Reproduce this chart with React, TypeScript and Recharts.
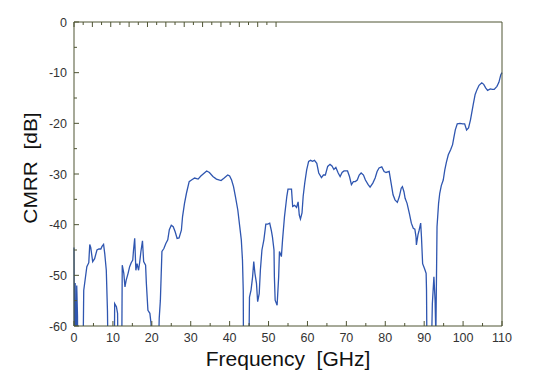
import { LineChart, Line, XAxis, YAxis } from "recharts";

// CMRR vs frequency (values below -60 dB leave the frame)
const freqGHz = [
  0, 0.15, 0.3, 0.5, 0.7, 0.9, 1.0, 2.2, 2.5, 3.3, 3.8, 4.05, 4.3, 4.8, 5.3, 5.9, 6.4, 6.9, 7.2, 7.6,
  7.9, 8.3, 8.6, 8.9, 10.3, 10.45, 10.9, 11.2, 11.4, 12.2, 12.4, 12.8, 13.1, 13.4, 13.9, 14.3, 14.7,
  15.1, 15.3, 15.6, 15.9, 16.2, 16.6, 16.9, 17.2, 17.6, 17.9, 18.4, 18.6, 19.0, 19.5, 19.8, 20.1,
  21.4, 21.9, 22.2, 22.6, 23.1, 23.6, 24.1, 24.5, 25.0, 25.5, 26.0, 26.5, 27.0, 27.6, 27.9, 28.4,
  28.9, 29.6, 30.2, 31.0, 31.9, 32.6, 33.5, 34.1, 34.8, 35.7, 36.6, 37.8, 38.6, 39.5, 40.0, 40.5,
  41.0, 41.5, 42.1, 42.6, 43.0, 43.3, 43.5, 43.6, 44.8, 45.1, 45.5, 45.9, 46.2, 46.5, 46.9, 47.2,
  47.6, 47.9, 48.3, 48.8, 49.3, 49.8, 50.3, 50.7, 51.0, 51.4, 51.5, 51.7, 52.2, 52.6, 52.8, 53.3,
  53.6, 54.1, 54.7, 55.0, 55.9, 56.2, 56.7, 57.2, 57.6, 57.9, 58.2, 58.6, 58.9, 59.3, 59.8, 60.3,
  60.8, 61.3, 61.8, 62.4, 62.9, 63.6, 64.1, 64.6, 65.2, 65.8, 66.3, 66.8, 67.3, 67.9, 68.4, 68.9,
  69.4, 70.3, 70.8, 71.3, 71.8, 72.3, 72.8, 73.3, 73.8, 74.4, 74.9, 75.6, 76.1, 76.8, 77.4, 77.9,
  78.4, 79.1, 79.7, 80.2, 81.0, 81.5, 82.0, 82.5, 83.1, 83.6, 84.1, 84.4, 84.8, 85.1, 85.6, 86.2,
  86.7, 87.2, 87.6, 87.9, 88.0, 88.4, 88.7, 89.1, 89.3, 89.6, 90.1, 90.5, 90.6, 90.8, 91.6, 92.1,
  92.5, 92.8, 93.0, 93.3, 93.7, 94.0, 94.4, 94.9, 95.3, 95.7, 96.2, 96.8, 97.3, 97.6, 98.0, 98.5,
  99.2, 99.9, 100.4, 100.9, 101.4, 101.9, 102.6, 103.1, 103.6, 104.1, 104.8, 105.3, 105.8, 106.3,
  107.0, 107.5, 108.0, 108.7, 109.2, 109.7, 110,
];

const cmrrDb = [
  -44.5, -75, -51.5, -75, -52, -58, -75, -75, -53, -48.3, -47.5, -43.9, -44.5, -47.3, -46.7, -45, -44.8, -44.8, -44.3, -43.9,
  -45.7, -49, -57, -75, -75, -55.6, -56.2, -57.5, -75, -75, -48, -49.6, -52.3, -51, -49.6, -48.3, -47.5,
  -47, -45, -42.7, -49, -47.7, -49, -47.3, -45.3, -43.2, -47.3, -48, -51.6, -56.9, -57.5, -59.5, -75,
  -75, -58.5, -54.9, -45.3, -44.7, -43.7, -43, -41, -40.1, -40.4, -41.4, -42.7, -42.6, -41.1, -38.4, -35.8,
  -33.8, -31.5, -31.2, -30.8, -31, -30.4, -29.8, -29.4, -29.7, -30.5, -31, -31.3, -30.8, -30.2, -30.4, -31.2,
  -32.5, -34.5, -37.1, -40.4, -43, -47, -53, -75, -75, -54.3, -52.9, -50.3, -47.3, -49.6, -51.6, -55.2,
  -53.6, -49, -45, -43, -39.9, -39.9, -39.7, -41.1, -42.4, -45, -50.3, -54.9, -55.9, -50.3, -45.3, -46.3,
  -43, -38.4, -34.4, -33, -33, -36.4, -36.2, -36.6, -35.5, -38.1, -38.9, -37.7, -34.4, -31.8, -29.2, -27.5,
  -27.3, -27.5, -27.3, -27.9, -29.8, -30.7, -30.2, -30.2, -28.5, -28.1, -28.4, -29.1, -28.7, -29.8, -30.5, -29.7,
  -29.4, -29.4, -30.5, -32.1, -31.5, -31.5, -31.2, -30.2, -29.8, -30.2, -31.2, -32.1, -32.6, -31.8, -30.8, -29.5,
  -28.8, -28.6, -29.5, -29.7, -29.5, -31.8, -34.1, -35.1, -35.6, -34.5, -32.8, -32.5, -33.5, -34.8, -35.8, -37.8,
  -39.7, -40.7, -40.9, -42.4, -44, -42, -41.1, -39.7, -42.4, -47.7, -48.7, -49.6, -52.9, -75, -75, -55.6,
  -50.3, -54.9, -62, -40.4, -35.8, -33.8, -32.3, -31.2, -29.2, -27.7, -26.2, -25.2, -24.2, -22.9, -21.3, -20.1,
  -20, -20.1, -20.1, -21.3, -20.9, -19.3, -16.3, -14.3, -13.3, -12.5, -12, -12.3, -13, -13.5,
  -13.2, -13.3, -13.3, -12.7, -11.9, -10.4, -10,
];

const xTicks = [0, 5, 10, 15, 20, 25, 30, 35, 40, 45, 50, 55, 60, 65, 70, 75, 80, 85, 90, 95, 100, 105, 110];
const yTicks = [-60, -55, -50, -45, -40, -35, -30, -25, -20, -15, -10, -5, 0];

const data = freqGHz.map((f, i) => ({ f, cmrr: cmrrDb[i] }));

const FRAME = "#4f5433";
const FONT = "'Liberation Sans', Arial, sans-serif";
const LABEL = "#333333";

const isMajor = (v: number) => v % 10 === 0;

function BottomTick({ x, y, payload }: any) {
  const major = isMajor(payload.value);
  return (
    <g>
      <line x1={x} x2={x} y1={y} y2={y - (major ? 5 : 3)} stroke={FRAME} />
      {major && (
        <text x={x} y={y + 16} textAnchor="middle" fontSize={12.5} fontFamily={FONT} fill={LABEL}>
          {payload.value}
        </text>
      )}
    </g>
  );
}

function TopTick({ x, y, payload }: any) {
  const major = isMajor(payload.value);
  return <line x1={x} x2={x} y1={y} y2={y + (major ? 5 : 3)} stroke={FRAME} />;
}

function LeftTick({ x, y, payload }: any) {
  const major = isMajor(payload.value);
  return (
    <g>
      <line x1={x} x2={x + (major ? 5 : 3)} y1={y} y2={y} stroke={FRAME} />
      {major && (
        <text x={x - 7} y={y + 4.5} textAnchor="end" fontSize={12.5} fontFamily={FONT} fill={LABEL}>
          {payload.value}
        </text>
      )}
    </g>
  );
}

function RightTick({ x, y, payload }: any) {
  const major = isMajor(payload.value);
  return <line x1={x} x2={x - (major ? 5 : 3)} y1={y} y2={y} stroke={FRAME} />;
}

export default function App() {
  return (
    <div style={{ position: "absolute", left: 0, top: 0, background: "#fff" }}>
      <LineChart width={553} height={379} data={data} margin={{ top: 21, right: 50, bottom: 0, left: 0 }}>
        <XAxis
          dataKey="f"
          type="number"
          domain={[0, 110]}
          ticks={xTicks}
          interval={0}
          height={53}
          stroke={FRAME}
          tickLine={false}
          tickSize={0}
          tickMargin={0}
          tick={BottomTick}
          label={({ viewBox }: any) => (
            <text
              x={viewBox.x + viewBox.width / 2}
              y={viewBox.y + 40}
              textAnchor="middle"
              fontSize={21}
              fontFamily={FONT}
              fill="#111"
            >
              {"Frequency\u00a0\u00a0[GHz]"}
            </text>
          )}
        />
        <XAxis
          xAxisId="top"
          orientation="top"
          type="number"
          domain={[0, 110]}
          ticks={xTicks}
          interval={0}
          height={1}
          stroke={FRAME}
          tickLine={false}
          tickSize={0}
          tickMargin={0}
          tick={TopTick}
        />
        <YAxis
          type="number"
          domain={[-60, 0]}
          ticks={yTicks}
          interval={0}
          allowDataOverflow
          width={74}
          stroke={FRAME}
          tickLine={false}
          tickSize={0}
          tickMargin={0}
          tick={LeftTick}
          label={({ viewBox }: any) => {
            const cx = viewBox.x + 37;
            const cy = viewBox.y + viewBox.height / 2 - 6;
            return (
              <text
                x={0}
                y={0}
                transform={`translate(${cx} ${cy}) rotate(-90) scale(1.16 1)`}
                textAnchor="middle"
                fontSize={18}
                fontFamily={FONT}
                fill="#111"
              >
                {"CMRR\u00a0\u00a0[dB]"}
              </text>
            );
          }}
        />
        <YAxis
          yAxisId="right"
          orientation="right"
          type="number"
          domain={[-60, 0]}
          ticks={yTicks}
          interval={0}
          width={1}
          stroke={FRAME}
          tickLine={false}
          tickSize={0}
          tickMargin={0}
          tick={RightTick}
        />
        <Line
          dataKey="cmrr"
          type="linear"
          stroke="#2f56b0"
          strokeWidth={1.3}
          dot={false}
          isAnimationActive={false}
        />
      </LineChart>
    </div>
  );
}
